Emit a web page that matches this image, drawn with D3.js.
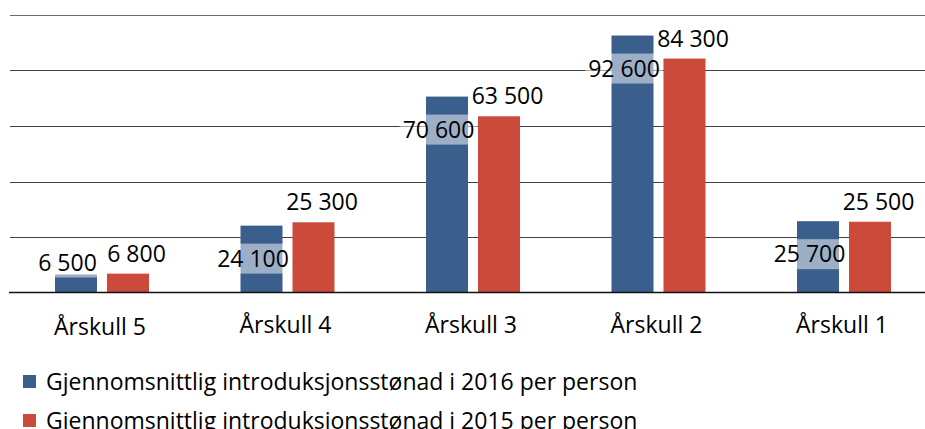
<!DOCTYPE html>
<html>
<head>
<meta charset="utf-8">
<script src="https://cdn.jsdelivr.net/npm/d3@7/dist/d3.min.js"></script>
<style>
  html, body { margin: 0; padding: 0; background: #fff; }
  svg { display: block; }
  text { font-family: "Open Sans", "Noto Sans", sans-serif; fill: #000; }
</style>
</head>
<body>
<svg id="chart" width="925" height="429"></svg>
<script>
const categories = ["Årskull 5", "Årskull 4", "Årskull 3", "Årskull 2", "Årskull 1"];
const seriesNames = [
  "Gjennomsnittlig introduksjonsstønad i 2016 per person",
  "Gjennomsnittlig introduksjonsstønad i 2015 per person"
];
const values2016 = [6500, 24100, 70600, 92600, 25700];
const values2015 = [6800, 25300, 63500, 84300, 25500];
const yTicks = [0, 20000, 40000, 60000, 80000, 100000];
const colors = ["#3a5f8c", "#cb4a3a"];

const svg = d3.select("#chart");
const W = 925;

const x = d3.scaleBand().domain(categories).range([9.25, 936.75]).padding(0);
const bw = x.bandwidth();
const x1 = d3.scaleBand().domain([0, 1]).range([bw / 2 - 47, bw / 2 + 47]).paddingInner(0.192);
const y = d3.scaleLinear().domain([0, 100000]).range([292.5, 15]);

const fmt = v => d3.format(",")(v).replace(/,/g, " ");

// gridlines
svg.append("g").selectAll("line").data(yTicks.filter(t => t > 0)).join("line")
  .attr("x1", 10).attr("x2", W)
  .attr("y1", d => Math.round(y(d)) + 0.5).attr("y2", d => Math.round(y(d)) + 0.5)
  .attr("stroke", (d, i) => d === 100000 ? "#6a6a6a" : "#404040").attr("stroke-width", 1);

const data = categories.map((c, i) => ({ cat: c, vals: [values2016[i], values2015[i]] }));

// bars
const groups = svg.append("g").selectAll("g").data(data).join("g")
  .attr("transform", d => `translate(${x(d.cat)},0)`);

groups.selectAll("rect.bar").data(d => d.vals.map((v, s) => ({ v, s }))).join("rect")
  .attr("class", "bar")
  .attr("x", d => x1(d.s))
  .attr("width", x1.bandwidth())
  .attr("y", d => y(d.v))
  .attr("height", d => y(0) - y(d.v))
  .attr("fill", d => colors[d.s]);

// baseline
svg.append("line").attr("x1", 9).attr("x2", W)
  .attr("y1", y(0)).attr("y2", y(0)).attr("stroke", "#111").attr("stroke-width", 1.3);

// labels
const labelSize = 23;
groups.each(function (d) {
  const g = d3.select(this);
  // 2016 label (inside end with light box)
  const v0 = d.vals[0];
  const cx0 = x1(0) + x1.bandwidth() / 2 - 8.5;
  const cy0 = Math.min(y(v0) + 33, y(0) - 30);
  const t0 = g.append("text").attr("x", cx0).attr("y", cy0 + 8.2)
    .attr("text-anchor", "middle").style("font-size", labelSize + "px").text(fmt(v0));
  const w0 = t0.node().getComputedTextLength();
  g.insert("rect", "text")
    .attr("x", cx0 - w0 / 2 - 3).attr("width", w0 + 6)
    .attr("y", cy0 - 15).attr("height", 30)
    .attr("fill", "#fff").attr("fill-opacity", 0.5);
  // 2015 label (outside end)
  const v1 = d.vals[1];
  const cx1 = x1(1) + x1.bandwidth() / 2 + 8.5;
  g.append("text").attr("x", cx1).attr("y", y(v1) - 12)
    .attr("text-anchor", "middle").style("font-size", labelSize + "px").text(fmt(v1));
});

// category axis labels
svg.append("g").selectAll("text").data(categories).join("text")
  .attr("x", d => x(d) + bw / 2 - 2)
  .attr("y", (d, i) => i === 0 ? 334.5 : 333)
  .attr("text-anchor", "middle")
  .style("font-size", "23px")
  .text(d => d);

// legend
const leg = svg.append("g").selectAll("g").data(seriesNames).join("g")
  .attr("transform", (d, i) => `translate(0,${i * 39})`);
leg.append("rect").attr("x", 23).attr("y", 375).attr("width", 13).attr("height", 13)
  .attr("fill", (d, i) => colors[i]);
leg.append("text").attr("x", 46).attr("y", 389.5)
  .style("font-size", "23px").text(d => d);
</script>
</body>
</html>
